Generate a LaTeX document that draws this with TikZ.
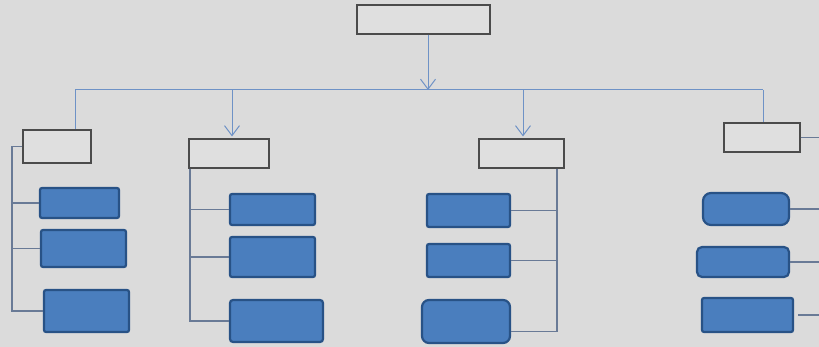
\documentclass[tikz,border=0pt]{standalone}
\usepackage{xcolor}
\definecolor{colBack}{RGB}{219,219,219}
\definecolor{colHead}{RGB}{223,223,223}
\definecolor{colHeadLine}{RGB}{75,75,75}
\definecolor{colUnit}{RGB}{74,126,190}
\definecolor{colUnitLine}{RGB}{40,82,134}
\definecolor{colBus}{RGB}{110,146,198}
\definecolor{colBranch}{RGB}{105,122,150}
\usepackage{tikz}
\usetikzlibrary{arrows.meta, calc}

\begin{document}
\begin{tikzpicture}[x=1pt, y=-1pt, >={Straight Barb[length=10pt, width=15pt]},
		head/.style={draw=colHeadLine, fill=colHead, line width=1.1pt, inner sep=0pt},
		unit/.style={draw=colUnitLine, fill=colUnit, line width=2.2pt, inner sep=0pt},
		bus/.style={draw=colBus, line width=1pt},
		branch/.style={draw=colBranch, line width=1.3pt}]
	\fill[colBack] (0,0) rectangle (819,347);
	\useasboundingbox (0,0) rectangle (819,347);
	\node[head, minimum width=133pt, minimum height=29pt] (top) at (423.5,19.5) {};
	\foreach \n/\x/\y/\w/\h in {h1/57/146.5/68/33, h2/229/153.5/80/29, h3/521.5/153.5/85/29, h4/762/137.5/76/29}{
		\node[head, minimum width=\w pt, minimum height=\h pt] (\n) at (\x,\y) {};
	}
	\foreach \n/\x/\y/\w/\h/\r in {b1a/79.5/203/79/30/2, b1b/83.5/248.5/85/37/2, b1c/86.5/311/85/42/2,
			b2a/272.5/209.5/85/31/2, b2b/272.5/257/85/40/2, b2c/276.5/321/93/42/3,
			b3a/468.5/210.5/83/33/2, b3b/468.5/260.5/83/33/2, b3c/466/321.5/88/43/7,
			b4a/746/209/86/32/8, b4b/743/262/92/30/5, b4c/747.5/315/91/34/2}{
		\node[unit, rounded corners=\r pt, minimum width=\w pt, minimum height=\h pt] (\n) at (\x,\y) {};
	}
	\coordinate (busL) at (75,90);
	\coordinate (busR) at (763,90);
	\coordinate (busT) at (428,90);
	\coordinate (busA) at (232,90);
	\coordinate (busB) at (523,90);
	\coordinate (sp1) at (12,0);
	\coordinate (sp2) at (190,0);
	\coordinate (sp3) at (557,0);
	\coordinate (edge) at (819,0);
	% top level
	\draw[bus] (busL) -- (busR);
	\draw[bus, ->] (busT |- top.south) -- (busT);
	\draw[bus, ->, shorten >=2pt] (busA) -- (busA |- h2.north);
	\draw[bus, ->, shorten >=2pt] (busB) -- (busB |- h3.north);
	\draw[bus] (busL) -- (busL |- h1.north);
	\draw[bus] (busR) -- (busR |- h4.north);
	% branches
	\draw[branch] (h1.west) -- (h1.west -| sp1) |- (b1c.west);
	\foreach \b in {b1a, b1b}{
		\draw[branch] (\b.west) -- (\b.west -| sp1);
	}
	\draw[branch] (h2.south -| sp2) |- (b2c.west);
	\foreach \b in {b2a, b2b}{
		\draw[branch] (\b.west) -- (\b.west -| sp2);
	}
	\draw[branch] (h3.south -| sp3) |- ($(b3c.east)+(0,10)$);
	\foreach \b in {b3a, b3b}{
		\draw[branch] (\b.east) -- (\b.east -| sp3);
	}
	\draw[branch] (h4.east) -- (h4.east -| edge);
	\draw[branch] (b4a.east) -- (b4a.east -| edge);
	\draw[branch] (b4b.east) -- (b4b.east -| edge);
	\draw[branch] ($(b4c.east)+(4,0)$) -- (b4c.east -| edge);
\end{tikzpicture}
\end{document}
